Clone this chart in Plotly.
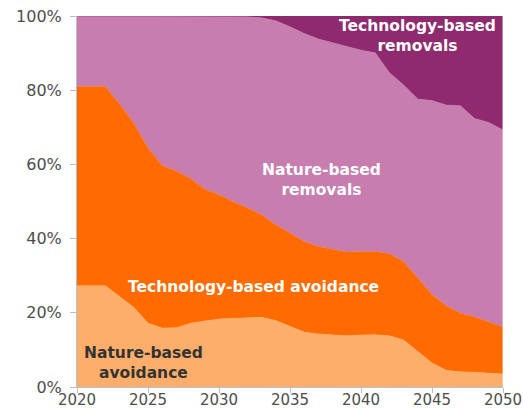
import plotly.graph_objects as go

years = list(range(2020, 2051))

nature_avoidance = [27.3, 27.3, 27.3, 24.4, 21.5, 17.2, 15.9, 16.0, 17.2, 17.8,
                    18.3, 18.5, 18.6, 18.8, 17.9, 16.3, 14.8, 14.3, 14.1, 13.8,
                    14.0, 14.1, 13.8, 12.7, 9.6, 6.5, 4.5, 4.1, 4.0, 3.8, 3.5]
tech_avoidance = [53.7, 53.7, 53.7, 51.9, 49.6, 47.2, 43.8, 42.2, 39.0, 35.5,
                  33.5, 31.4, 29.7, 27.6, 25.8, 25.2, 24.4, 23.6, 23.1, 22.6,
                  22.5, 22.4, 22.1, 21.1, 19.8, 18.4, 17.4, 15.8, 14.9, 13.8, 12.7]
nature_removals = [19.0, 19.0, 19.0, 23.7, 28.9, 35.6, 40.3, 41.8, 43.8, 46.7,
                   48.2, 50.1, 51.5, 53.1, 55.0, 55.6, 56.1, 55.9, 55.6, 55.3,
                   54.3, 53.6, 48.8, 47.6, 48.2, 52.3, 54.1, 55.9, 53.5, 53.7, 53.1]
tech_removals = [0, 0, 0, 0, 0, 0, 0, 0, 0, 0,
                 0, 0, 0.2, 0.5, 1.3, 2.9, 4.7, 6.2, 7.2, 8.3,
                 9.2, 9.9, 15.3, 18.6, 22.4, 22.8, 24.0, 24.2, 27.6, 28.7, 30.7]

x_ticks = [2020, 2025, 2030, 2035, 2040, 2045, 2050]
y_ticks = [0, 20, 40, 60, 80, 100]
y_tick_labels = ["0%", "20%", "40%", "60%", "80%", "100%"]

series = [
    ("Nature-based avoidance", nature_avoidance, "#FDAE6B"),
    ("Technology-based avoidance", tech_avoidance, "#FF6B00"),
    ("Nature-based removals", nature_removals, "#C77DAE"),
    ("Technology-based removals", tech_removals, "#8F2A6F"),
]

fig = go.Figure()
for name, vals, color in series:
    fig.add_trace(go.Scatter(
        x=years, y=vals, name=name, mode="lines",
        stackgroup="one", line=dict(width=0.5, color=color),
        fillcolor=color, showlegend=False,
    ))

annots = [
    (2044.0, 94.7, "<b>Technology-based<br>removals</b>", "white"),
    (2037.2, 55.7, "<b>Nature-based<br>removals</b>", "white"),
    (2032.4, 27.0, "<b>Technology-based avoidance</b>", "white"),
    (2024.7, 6.4, "<b>Nature-based<br>avoidance</b>", "#333333"),
]
for x, y, t, c in annots:
    fig.add_annotation(x=x, y=y, text=t, showarrow=False, xref="x", yref="y",
                       font=dict(family="DejaVu Sans", size=15.5, color=c),
                       align="center")

axis_col = "#B9BFCA"
fig.update_xaxes(range=[2020, 2050], tickvals=x_ticks, automargin=False,
                 ticklabeloverflow="allow", ticklabelstandoff=-6,
                 showgrid=False, zeroline=False, showline=True, linecolor=axis_col,
                 linewidth=1, ticks="outside", ticklen=5, tickcolor=axis_col,
                 tickfont=dict(family="DejaVu Sans", size=15, color="#4D4D4D"))
fig.update_yaxes(range=[0, 100], tickvals=y_ticks, ticktext=y_tick_labels, automargin=False,
                 ticklabelstandoff=5,
                 showgrid=False, zeroline=False, showline=True, linecolor=axis_col,
                 linewidth=1, ticks="outside", ticklen=6, tickcolor=axis_col,
                 tickfont=dict(family="DejaVu Sans", size=16, color="#4D4D4D"))

fig.add_shape(type="line", xref="x", yref="y", x0=2050, x1=2050, y0=0, y1=100,
              line=dict(color="#E2E2E2", width=1))

fig.update_layout(width=523, height=408, margin=dict(l=77, r=20, t=16, b=21),
                  plot_bgcolor="white", paper_bgcolor="white")

fig.write_html("out.html", config={"displayModeBar": False},
               post_script="document.body.style.margin='0';document.body.style.padding='0';")
